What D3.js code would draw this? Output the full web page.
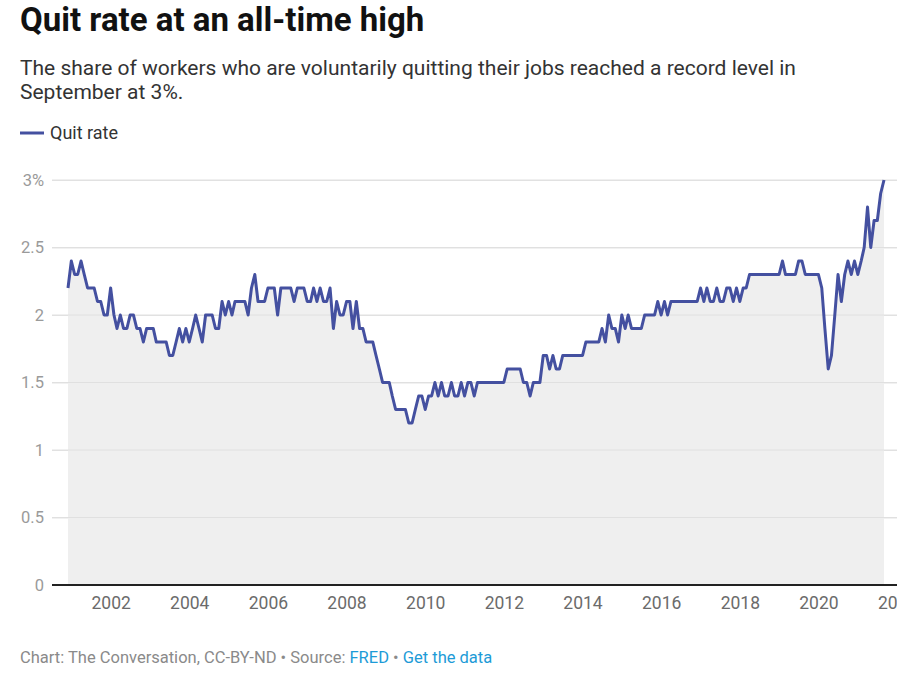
<!DOCTYPE html>
<html>
<head>
<meta charset="utf-8">
<script src="https://cdn.jsdelivr.net/npm/d3@7"></script>
<style>
  body { margin: 0; overflow: hidden; background: #fff; font-family: Roboto, "Noto Sans", sans-serif; }
</style>
</head>
<body>
<div id="root"></div>
<script>
// monthly quit rate (%), Dec 2000 to Sep 2021
const firstMonth = "2000-12";
const quitRate = [
  2.2,
  2.4, 2.3, 2.3, 2.4, 2.3, 2.2, 2.2, 2.2, 2.1, 2.1, 2.0, 2.0, // 2001
  2.2, 2.0, 1.9, 2.0, 1.9, 1.9, 2.0, 2.0, 1.9, 1.9, 1.8, 1.9, // 2002
  1.9, 1.9, 1.8, 1.8, 1.8, 1.8, 1.7, 1.7, 1.8, 1.9, 1.8, 1.9, // 2003
  1.8, 1.9, 2.0, 1.9, 1.8, 2.0, 2.0, 2.0, 1.9, 1.9, 2.1, 2.0, // 2004
  2.1, 2.0, 2.1, 2.1, 2.1, 2.1, 2.0, 2.2, 2.3, 2.1, 2.1, 2.1, // 2005
  2.2, 2.2, 2.2, 2.0, 2.2, 2.2, 2.2, 2.2, 2.1, 2.2, 2.2, 2.2, // 2006
  2.1, 2.1, 2.2, 2.1, 2.2, 2.1, 2.1, 2.2, 1.9, 2.1, 2.0, 2.0, // 2007
  2.1, 2.1, 1.9, 2.1, 1.9, 1.9, 1.8, 1.8, 1.8, 1.7, 1.6, 1.5, // 2008
  1.5, 1.5, 1.4, 1.3, 1.3, 1.3, 1.3, 1.2, 1.2, 1.3, 1.4, 1.4, // 2009
  1.3, 1.4, 1.4, 1.5, 1.4, 1.5, 1.4, 1.4, 1.5, 1.4, 1.4, 1.5, // 2010
  1.4, 1.5, 1.5, 1.4, 1.5, 1.5, 1.5, 1.5, 1.5, 1.5, 1.5, 1.5, // 2011
  1.5, 1.6, 1.6, 1.6, 1.6, 1.6, 1.5, 1.5, 1.4, 1.5, 1.5, 1.5, // 2012
  1.7, 1.7, 1.6, 1.7, 1.6, 1.6, 1.7, 1.7, 1.7, 1.7, 1.7, 1.7, // 2013
  1.7, 1.8, 1.8, 1.8, 1.8, 1.8, 1.9, 1.8, 2.0, 1.9, 1.9, 1.8, // 2014
  2.0, 1.9, 2.0, 1.9, 1.9, 1.9, 1.9, 2.0, 2.0, 2.0, 2.0, 2.1, // 2015
  2.0, 2.1, 2.0, 2.1, 2.1, 2.1, 2.1, 2.1, 2.1, 2.1, 2.1, 2.1, // 2016
  2.2, 2.1, 2.2, 2.1, 2.1, 2.2, 2.1, 2.1, 2.2, 2.2, 2.1, 2.2, // 2017
  2.1, 2.2, 2.2, 2.3, 2.3, 2.3, 2.3, 2.3, 2.3, 2.3, 2.3, 2.3, // 2018
  2.3, 2.4, 2.3, 2.3, 2.3, 2.3, 2.4, 2.4, 2.3, 2.3, 2.3, 2.3, // 2019
  2.3, 2.2, 1.9, 1.6, 1.7, 2.0, 2.3, 2.1, 2.3, 2.4, 2.3, 2.4, // 2020
  2.3, 2.4, 2.5, 2.8, 2.5, 2.7, 2.7, 2.9, 3.0                 // 2021
];
const yTicks = [0, 0.5, 1, 1.5, 2, 2.5, 3];
const xTickYears = [2002, 2004, 2006, 2008, 2010, 2012, 2014, 2016, 2018, 2020, 2022];

var width = 940;
var height = 673;
var lineColor = "#4450a0";

var svg = d3
  .select("#root")
  .append("svg")
  .attr("width", width)
  .attr("height", height)
  .style("display", "block");

// header
svg
  .append("text")
  .attr("x", 20)
  .attr("y", 31)
  .attr("font-size", 33)
  .attr("font-weight", 700)
  .style("fill", "#111")
  .text("Quit rate at an all-time high");

var subtitle = svg
  .append("text")
  .attr("font-size", 21)
  .style("fill", "#333");
subtitle
  .append("tspan")
  .attr("x", 20)
  .attr("y", 75)
  .text("The share of workers who are voluntarily quitting their jobs reached a record level in");
subtitle
  .append("tspan")
  .attr("x", 20)
  .attr("y", 99)
  .text("September at 3%.");

// legend
var legend = svg.append("g").attr("transform", "translate(20, 133)");
legend
  .append("line")
  .attr("x1", 0)
  .attr("x2", 24)
  .attr("stroke", lineColor)
  .attr("stroke-width", 3);
legend
  .append("text")
  .attr("x", 30)
  .attr("y", 6)
  .attr("font-size", 18)
  .style("fill", "#333")
  .text("Quit rate");

// scales
var parseMonth = d3.timeParse("%Y-%m");
var start = parseMonth(firstMonth);
var data = quitRate.map((v, i) => ({ date: d3.timeMonth.offset(start, i), value: v }));

var xScale = d3
  .scaleTime()
  .domain([start, data[data.length - 1].date])
  .range([68, 884]);
var yScale = d3.scaleLinear().domain([0, 3]).range([585, 180]);

// grid + y labels
var yAxis = d3
  .axisLeft(yScale)
  .tickValues(yTicks)
  .tickSize(-(width - 52))
  .tickPadding(8)
  .tickFormat((d) => (d === 3 ? "3%" : d3.format("")(d)));
var gy = svg
  .append("g")
  .attr("transform", "translate(52, 0)")
  .call(yAxis);
gy.select(".domain").remove();
gy.selectAll(".tick line").attr("stroke", "#e3e3e3").attr("stroke-width", 1);
gy.selectAll(".tick text")
  .attr("font-size", 16.5)
  .attr("font-family", "Roboto, sans-serif")
  .style("fill", "#9a9a9a");

// area + line
var area = d3
  .area()
  .x((d) => xScale(d.date))
  .y0(yScale(0))
  .y1((d) => yScale(d.value));
svg.append("path").datum(data).attr("d", area).attr("fill", "#efefef");

// redraw grid lines over the fill so they stay visible
svg
  .append("g")
  .selectAll("line")
  .data(yTicks.filter((d) => d > 0))
  .enter()
  .append("line")
  .attr("x1", 52)
  .attr("x2", width)
  .attr("y1", (d) => yScale(d))
  .attr("y2", (d) => yScale(d))
  .attr("stroke", "#e0e0e0")
  .attr("stroke-width", 1);

var line = d3
  .line()
  .x((d) => xScale(d.date))
  .y((d) => yScale(d.value));
svg
  .append("path")
  .datum(data)
  .attr("d", line)
  .attr("fill", "none")
  .attr("stroke", lineColor)
  .attr("stroke-width", 3)
  .attr("stroke-linejoin", "round");

// x axis
var xAxis = d3
  .axisBottom(xScale)
  .tickValues(xTickYears.map((y) => new Date(y, 0, 1)))
  .tickSize(0)
  .tickPadding(12)
  .tickFormat(d3.timeFormat("%Y"));
var gx = svg
  .append("g")
  .attr("transform", "translate(0, " + yScale(0) + ")")
  .call(xAxis);
gx.select(".domain").remove();
gx.selectAll(".tick text")
  .attr("font-size", 17.5)
  .attr("font-family", "Roboto, sans-serif")
  .style("fill", "#6b6b6b");

svg
  .append("line")
  .attr("x1", 52)
  .attr("x2", width)
  .attr("y1", yScale(0))
  .attr("y2", yScale(0))
  .attr("stroke", "#222")
  .attr("stroke-width", 2);

// footer
var footer = svg
  .append("text")
  .attr("x", 20)
  .attr("y", 663)
  .attr("font-size", 16.5)
  .style("fill", "#8a8a8a");
footer.append("tspan").text("Chart: The Conversation, CC-BY-ND • Source: ");
footer.append("tspan").style("fill", "#1d9bd7").text("FRED");
footer.append("tspan").text(" • ");
footer.append("tspan").style("fill", "#1d9bd7").text("Get the data");
</script>
</body>
</html>
